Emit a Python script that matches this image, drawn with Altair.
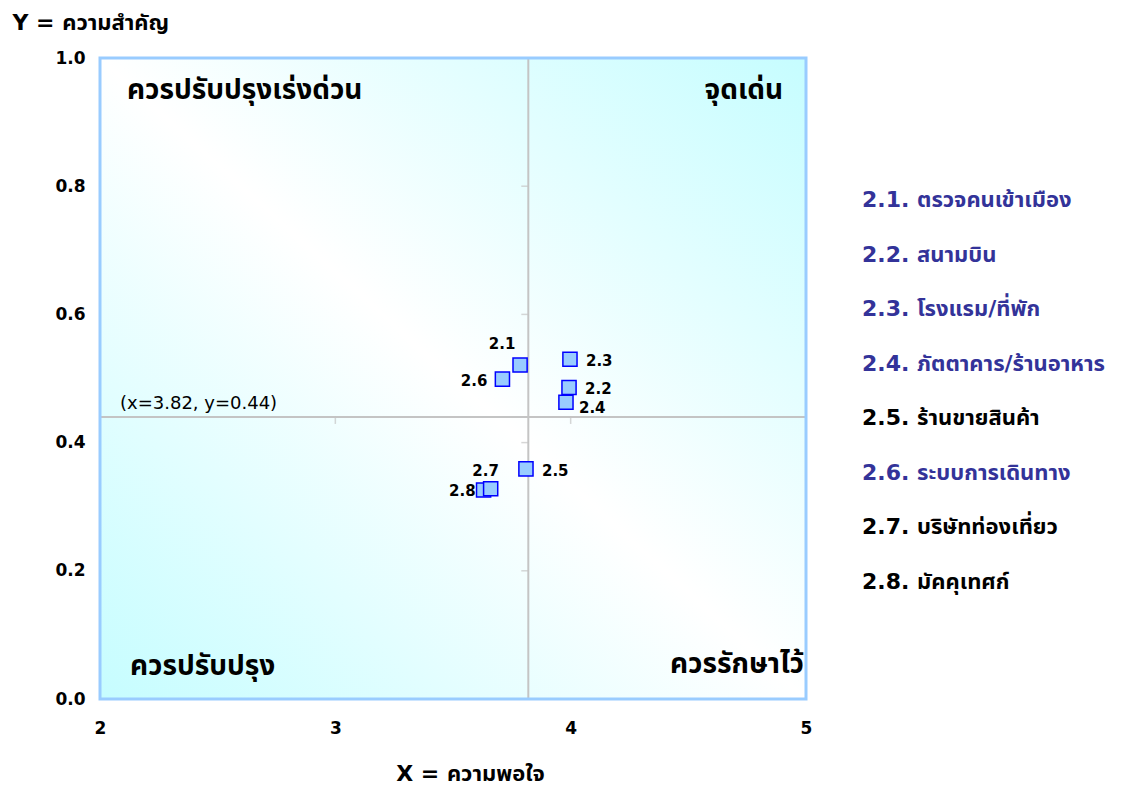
import altair as alt
import pandas as pd

# Tourism service items: code, name, satisfaction (x) and importance (y)
codes = ["2.1", "2.2", "2.3", "2.4", "2.5", "2.6", "2.7", "2.8"]
names = [
    "ตรวจคนเข้าเมือง",
    "สนามบิน",
    "โรงแรม/ที่พัก",
    "ภัตตาคาร/ร้านอาหาร",
    "ร้านขายสินค้า",
    "ระบบการเดินทาง",
    "บริษัทท่องเที่ยว",
    "มัคคุเทศก์",
]
satisfaction = [3.785, 3.993, 3.997, 3.98, 3.81, 3.71, 3.66, 3.63]
importance = [0.521, 0.486, 0.530, 0.463, 0.359, 0.499, 0.328, 0.326]

# Quadrant split point and axis ranges
x_mid = 3.82
y_mid = 0.44
x_ticks = [2, 3, 4, 5]
y_ticks = [0.0, 0.2, 0.4, 0.6, 0.8, 1.0]

# Quadrant captions: top-left, top-right, bottom-left, bottom-right
quadrant_names = ["ควรปรับปรุงเร่งด่วน", "จุดเด่น", "ควรปรับปรุง", "ควรรักษาไว้"]

x_title = "X = ความพอใจ"
y_title = "Y = ความสำคัญ"

FONT = "DejaVu Sans, Noto Sans Thai, Garuda, Loma, sans-serif"
CAPTION_FONT = "Noto Sans Thai, Garuda, Loma, sans-serif"
W, H = 706, 641

df = pd.DataFrame({
    "code": codes,
    "name": names,
    "satisfaction": satisfaction,
    "importance": importance,
})
df["entry"] = [f"{c}. {n}" for c, n in zip(codes, names)]

frame = pd.DataFrame({"x": [x_ticks[0]], "x2": [x_ticks[-1]],
                      "y": [y_ticks[0]], "y2": [y_ticks[-1]]})

xs = alt.Scale(domain=[x_ticks[0], x_ticks[-1]], nice=False, zero=False)
ys = alt.Scale(domain=[y_ticks[0], y_ticks[-1]], nice=False, zero=False)

x_axis = alt.Axis(
    values=x_ticks, format="d", domain=False, ticks=False, grid=False,
    labelFont=FONT, labelFontWeight="bold", labelFontSize=17, labelColor="black",
    labelPadding=29, labelBaseline="middle", labelFlush=False,
    title=x_title, titleFont=FONT, titleFontWeight="bold", titleFontSize=22,
    titleColor="black", titleX=370, titleY=74, titleBaseline="middle",
)
y_axis = alt.Axis(
    values=y_ticks, format=".1f", domain=False, ticks=False, grid=False,
    labelFont=FONT, labelFontWeight="bold", labelFontSize=17, labelColor="black",
    labelPadding=15, labelFlush=False,
    title=y_title, titleFont=FONT, titleFontWeight="bold", titleFontSize=22,
    titleColor="black", titleAngle=0, titleAlign="left", titleBaseline="middle",
    titleX=-88, titleY=-36,
)

# Plot background: diagonal cyan -> white -> cyan wash
wash = alt.LinearGradient(
    gradient="linear", x1=0, y1=1, x2=1, y2=0,
    stops=[
        alt.GradientStop(color="#c6fdff", offset=0),
        alt.GradientStop(color="#ffffff", offset=0.5),
        alt.GradientStop(color="#c6fdff", offset=1),
    ],
)
background = alt.Chart(frame).mark_rect(fill=wash).encode(
    x=alt.X("x:Q", scale=xs, axis=x_axis),
    x2="x2:Q",
    y=alt.Y("y:Q", scale=ys, axis=y_axis),
    y2="y2:Q",
)

# Crosshair at the mean point
mid = pd.DataFrame({"xm": [x_mid], "ym": [y_mid],
                    "x0": [x_ticks[0]], "x1": [x_ticks[-1]],
                    "y0": [y_ticks[0]], "y1": [y_ticks[-1]]})
GRID = "#c4c4c4"
vline = alt.Chart(mid).mark_rule(color=GRID, strokeWidth=2).encode(
    x="xm:Q", y="y0:Q", y2="y1:Q")
hline = alt.Chart(mid).mark_rule(color=GRID, strokeWidth=2).encode(
    y="ym:Q", x="x0:Q", x2="x1:Q")

inner_y = pd.DataFrame({"y": y_ticks[1:-1], "xm": x_mid})
inner_x = pd.DataFrame({"x": x_ticks[1:-1], "ym": y_mid})
yticks_on_line = alt.Chart(inner_y).mark_tick(
    orient="horizontal", size=7, thickness=1.5, color=GRID, xOffset=-3.5
).encode(x="xm:Q", y="y:Q")
xticks_on_line = alt.Chart(inner_x).mark_tick(
    orient="vertical", size=7, thickness=1.5, color=GRID, yOffset=3.5
).encode(x="x:Q", y="ym:Q")

mid_label = alt.Chart(mid).transform_calculate(
    txt=f"'(x={x_mid}, y={y_mid})'"
).mark_text(
    align="left", baseline="middle", dx=20, dy=-13,
    font="DejaVu Sans, sans-serif", fontSize=18, color="black",
).encode(x="x0:Q", y="ym:Q", text="txt:N")

# Quadrant captions anchored to the plot corners
qdf = pd.DataFrame({
    "name": quadrant_names,
    "x": [x_ticks[0], x_ticks[-1], x_ticks[0], x_ticks[-1]],
    "y": [y_ticks[-1], y_ticks[-1], y_ticks[0], y_ticks[0]],
})
q_style = [("left", 27, 33), ("right", -23, 33), ("left", 30, -32), ("right", -2, -34)]
quadrant_layers = []
for name, (al, dx, dy) in zip(quadrant_names, q_style):
    quadrant_layers.append(
        alt.Chart(qdf).transform_filter(alt.datum.name == name).mark_text(
            align=al, baseline="middle", dx=dx, dy=dy,
            font=CAPTION_FONT, fontWeight="bold", fontSize=28, color="black",
        ).encode(x="x:Q", y="y:Q", text="name:N")
    )

# Points, drawn from lower-left to upper-right
points = alt.Chart(df).transform_calculate(
    draw="datum.satisfaction + datum.importance"
).mark_point(
    shape="square", size=200, filled=True, fill="#99ccff",
    stroke="#0000ff", strokeWidth=1.5, opacity=1,
).encode(
    x="satisfaction:Q", y="importance:Q", order=alt.Order("draw:Q"),
)

# Point label placement (dx, dy, align)
label_place = {
    "2.1": (-18, -21, "center"),
    "2.2": (16, 2, "left"),
    "2.3": (16, 2, "left"),
    "2.4": (13, 6, "left"),
    "2.5": (16, 2, "left"),
    "2.6": (-15, 2, "right"),
    "2.7": (-5, -18, "center"),
    "2.8": (-8, 1, "right"),
}
label_layers = []
for c in codes:
    dx, dy, al = label_place[c]
    label_layers.append(
        alt.Chart(df).transform_filter(alt.datum.code == c).mark_text(
            align=al, baseline="middle", dx=dx, dy=dy,
            font=FONT, fontWeight="bold", fontSize=15, color="black",
        ).encode(x="satisfaction:Q", y="importance:Q", text="code:N")
    )

border = alt.Chart(frame).mark_rect(
    fillOpacity=0, stroke="#99ccff", strokeWidth=3
).encode(x="x:Q", x2="x2:Q", y="y:Q", y2="y2:Q")

plot = alt.layer(
    background, vline, hline, yticks_on_line, xticks_on_line, mid_label,
    *quadrant_layers, points, *label_layers, border,
)

# Item list on the right; items above the importance split in blue
legend = alt.Chart(df).mark_text(
    align="left", baseline="middle",
    font=FONT, fontWeight="bold", fontSize=22,
).encode(
    x=alt.value(762),
    y=alt.Y("code:N", scale=alt.Scale(domain=codes, range=[142, 524], padding=0),
            axis=None),
    text="entry:N",
    color=alt.condition(alt.datum.importance > y_mid,
                        alt.value("#333399"), alt.value("black")),
)

chart = alt.layer(plot, legend).resolve_scale(y="independent").properties(
    width=W, height=H,
    autosize=alt.AutoSizeParams(type="none"),
    padding={"left": 100, "top": 58, "right": 334, "bottom": 88},
    background="white",
).configure_view(stroke="transparent")

chart.save("out.html", embed_options={"renderer": "svg", "actions": False})
